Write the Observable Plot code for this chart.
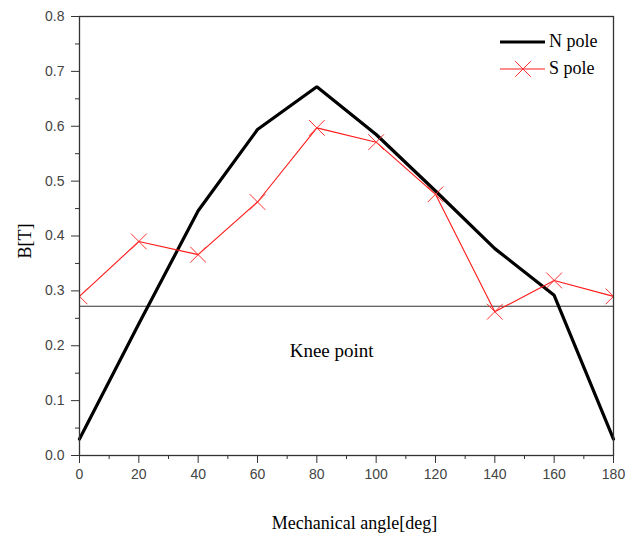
<!DOCTYPE html>
<html>
<head>
<meta charset="utf-8">
<script src="https://cdn.jsdelivr.net/npm/d3@7"></script>
<script src="https://cdn.jsdelivr.net/npm/@observablehq/plot@0.6"></script>
<style>
  html, body { margin: 0; padding: 0; background: #fff; }
  #wrap { position: relative; width: 636px; height: 540px; }
  #legend { position: absolute; left: 498px; top: 28px; font-family: "Liberation Serif", "Times New Roman", serif; font-size: 18px; color: #000; }
  .row { display: flex; align-items: center; height: 27px; }
  .row svg { display: block; margin-right: 3px; }
</style>
</head>
<body>
<div id="wrap">
  <div id="chart"></div>
  <div id="legend"></div>
</div>
<script>
const angles = [0, 20, 40, 60, 80, 100, 120, 140, 160, 180];
const nPole = [0.03, 0.24, 0.446, 0.594, 0.672, 0.585, 0.482, 0.377, 0.292, 0.03];
const sPole = [0.29, 0.39, 0.366, 0.462, 0.597, 0.571, 0.476, 0.262, 0.319, 0.29];
const kneeValue = 0.272;
const kneeLabel = [{angle: 85, b: 0.19, text: "Knee point"}];
const xTicks = [0, 20, 40, 60, 80, 100, 120, 140, 160, 180];
const xMinor = [10, 30, 50, 70, 90, 110, 130, 150, 170];
const yTicks = [0, 0.1, 0.2, 0.3, 0.4, 0.5, 0.6, 0.7, 0.8];
const yMinor = [0.05, 0.15, 0.25, 0.35, 0.45, 0.55, 0.65, 0.75];
const seriesNames = ["N pole", "S pole"];

const nData = angles.map((a, i) => ({angle: a, b: nPole[i]}));
const sData = angles.map((a, i) => ({angle: a, b: sPole[i]}));

const axisColor = "#333";
const serif = "Liberation Serif, Times New Roman, serif";
const chart = Plot.plot({
  width: 636,
  height: 540,
  marginLeft: 79,
  marginRight: 23,
  marginTop: 16,
  marginBottom: 85,
  style: {fontFamily: "Liberation Sans, Arial, sans-serif", fontSize: "14px", background: "#fff"},
  x: {domain: [0, 180]},
  y: {domain: [0, 0.8]},
  marks: [
    Plot.axisX({ticks: xTicks, tickSize: 8, tickPadding: 6, tickFormat: d => String(d), label: null, stroke: axisColor, fill: "#444"}),
    Plot.axisX({ticks: xMinor, tickSize: 4, text: null, label: null, stroke: axisColor}),
    Plot.axisY({ticks: yTicks, tickSize: 8, tickPadding: 7, tickFormat: d3.format(".1f"), label: null, stroke: axisColor, fill: "#444"}),
    Plot.axisY({ticks: yMinor, tickSize: 4, text: null, label: null, stroke: axisColor}),
    Plot.ruleY([kneeValue], {stroke: axisColor, strokeWidth: 1.2}),
    Plot.line(nData, {x: "angle", y: "b", stroke: "#000", strokeWidth: 3.2, strokeLinejoin: "miter"}),
    Plot.line(sData, {x: "angle", y: "b", stroke: "#ff1a1a", strokeWidth: 1.1}),
    Plot.dot(sData, {x: "angle", y: "b", symbol: "times", r: 7.2, stroke: "#ff3030", strokeWidth: 1, clip: true}),
    Plot.frame({stroke: axisColor, strokeWidth: 1.3}),
    Plot.text(kneeLabel, {x: "angle", y: "b", text: "text", fontFamily: serif, fontSize: 19, fill: "#000"}),
    Plot.text(["B[T]"], {frameAnchor: "left", textAnchor: "middle", lineAnchor: "middle", dx: -54, dy: 5, rotate: -90, fontFamily: serif, fontSize: 18, fill: "#000"}),
    Plot.text(["Mechanical angle[deg]"], {frameAnchor: "bottom", textAnchor: "middle", lineAnchor: "middle", dx: 8, dy: 68, fontFamily: serif, fontSize: 18, fill: "#000"})
  ]
});
document.getElementById("chart").appendChild(chart);

// legend
const legend = d3.select("#legend");
const r1 = legend.append("div").attr("class", "row");
const s1 = r1.append("svg").attr("width", 48).attr("height", 20);
s1.append("line").attr("x1", 2).attr("x2", 47).attr("y1", 10).attr("y2", 10).attr("stroke", "#000").attr("stroke-width", 3.2);
r1.append("span").text(seriesNames[0]);
const r2 = legend.append("div").attr("class", "row");
const s2 = r2.append("svg").attr("width", 48).attr("height", 20);
s2.append("line").attr("x1", 2).attr("x2", 47).attr("y1", 10).attr("y2", 10).attr("stroke", "#ff1a1a").attr("stroke-width", 1.1);
s2.append("path").attr("transform", "translate(25,10)").attr("d", d3.symbol(d3.symbolTimes, Math.PI * 7.2 * 7.2)()).attr("stroke", "#ff3030").attr("fill", "none").attr("stroke-width", 1);
r2.append("span").text(seriesNames[1]);
</script>
</body>
</html>
